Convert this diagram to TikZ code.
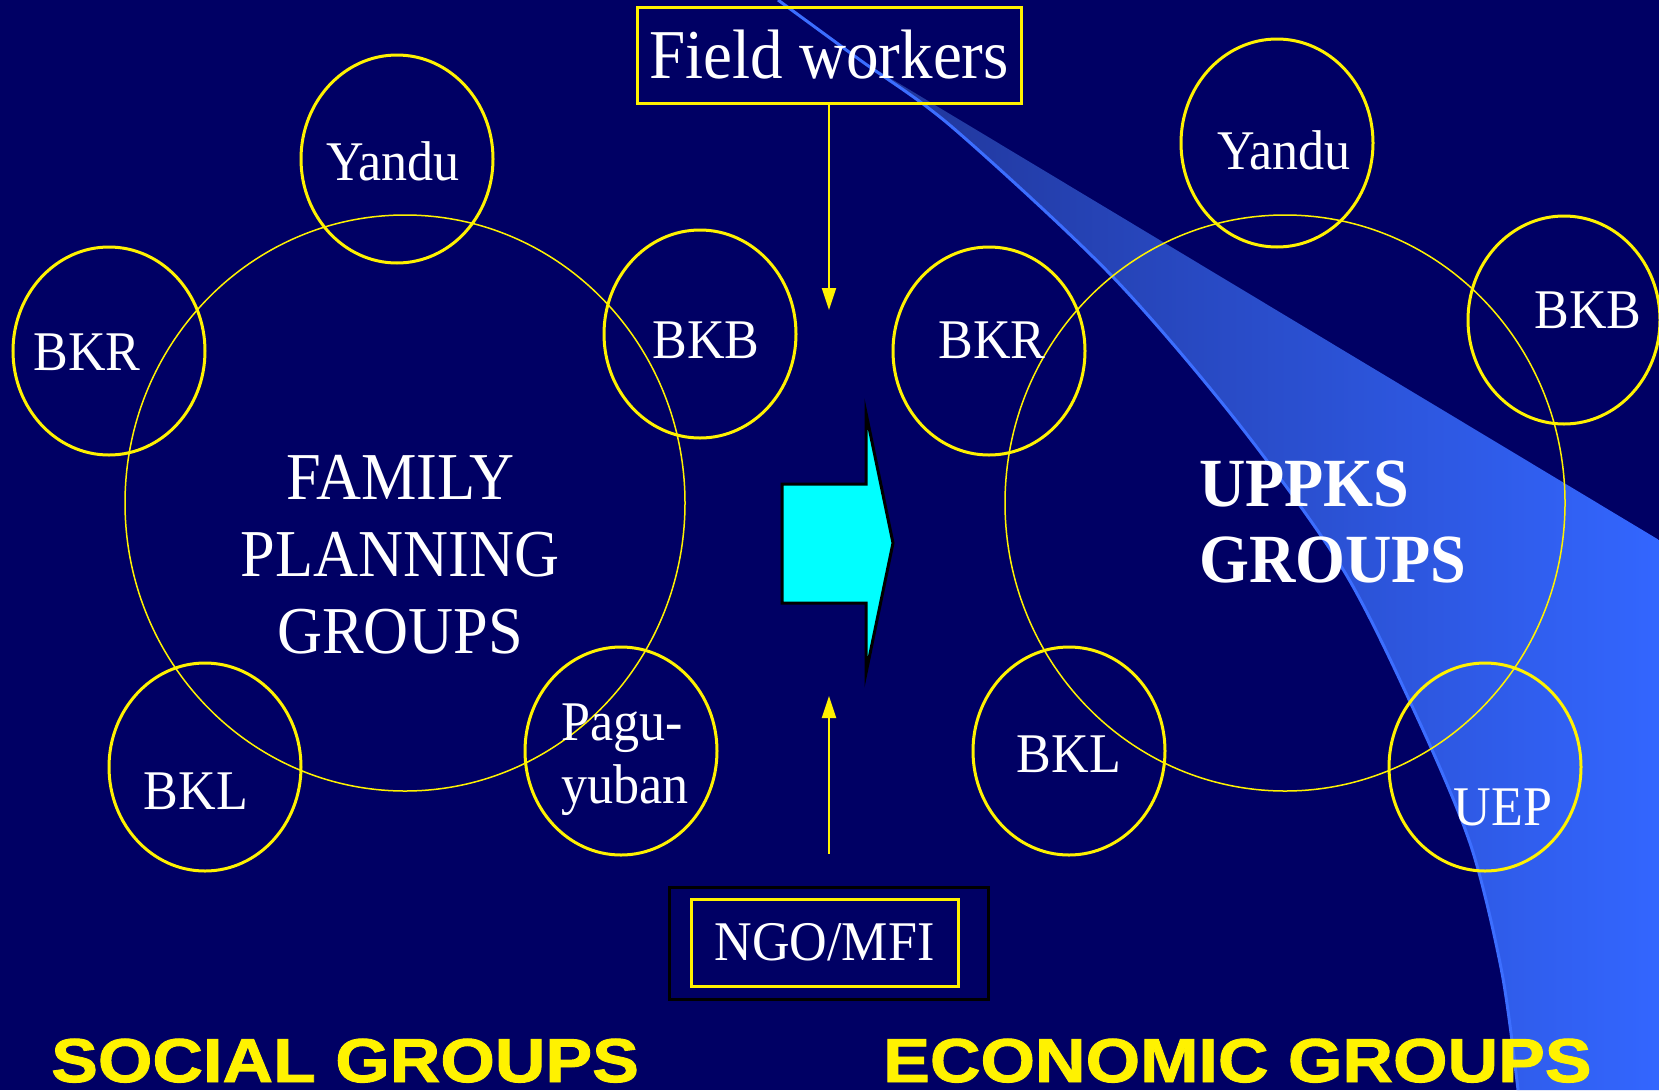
\documentclass[tikz,border=0pt]{standalone}
\usepackage{fontspec}
\setmainfont{Liberation Serif}[FakeStretch=0.93]
\newfontfamily\headfont{Liberation Sans}[FakeStretch=1.13, FakeBold=1.5]
\usetikzlibrary{shapes.geometric,arrows.meta}
\definecolor{navy}{RGB}{0,0,100}
\definecolor{swlight}{RGB}{51,102,255}
\definecolor{swdark}{RGB}{32,52,150}
\definecolor{swedge}{RGB}{60,110,255}
\definecolor{aqua}{RGB}{0,255,255}
\tikzset{
  ring/.style={ellipse, draw=yellow, line width=3pt, inner sep=0pt,
    minimum width=192pt, minimum height=208pt},
  bigring/.style={ellipse, draw=yellow, line width=1.5pt, inner sep=0pt,
    minimum width=560pt, minimum height=576pt},
  lbl/.style={text=white, anchor=base, inner sep=0pt,
    font=\fontsize{56}{63}\selectfont},
  ybox/.style={draw=yellow, line width=3pt, text=white, inner sep=0pt},
  feed/.style={draw=yellow, line width=2pt, -{Triangle[length=22pt, width=14pt]}},
  grouptitle/.style={text=yellow, anchor=base west, inner sep=0pt,
    font=\headfont\bfseries\fontsize{62}{70}\selectfont},
}
\begin{document}
\begin{tikzpicture}[x=1pt, y=-1pt]
            \useasboundingbox (0, 0) rectangle (1659, 1090);
            \fill [navy] (0, 0) rectangle (1659, 1090);

            \shade [left color=swdark, right color=swlight]
                plot [smooth] coordinates {(860, 60) (952, 127) (1111, 275)
                (1238, 423) (1344, 571) (1418, 719) (1471, 846) (1502, 973)
                (1518, 1090)} -- (1659, 1090) -- (1659, 540) -- cycle;
            \draw [swedge, line width=3pt]
                plot [smooth] coordinates {(778, 0) (860, 60) (952, 127)
                (1111, 275) (1238, 423) (1344, 571) (1418, 719) (1471, 846)
                (1502, 973) (1518, 1090)};

            \node [bigring] (fpbig) at (405, 503) {};
            \node [ring] (lyandu) at (397, 159) {};
            \node [ring] (lbkr) at (109, 351) {};
            \node [ring] (lbkb) at (700, 334) {};
            \node [ring] (lbkl) at (205, 767) {};
            \node [ring] (lpagu) at (621, 751) {};

            \node [bigring] (upbig) at (1285, 503) {};
            \node [ring] (ryandu) at (1277, 143) {};
            \node [ring] (rbkr) at (989, 351) {};
            \node [ring] (rbkb) at (1564, 320) {};
            \node [ring] (rbkl) at (1069, 751) {};
            \node [ring] (ruep) at (1485, 767) {};

            \node [lbl] (lyandutxt) at (393, 180) {Yandu};
            \node [lbl] (lbkrtxt) at (87, 370) {BKR};
            \node [lbl] (lbkbtxt) at (706, 358) {BKB};
            \node [lbl] (lbkltxt) at (196, 809) {BKL};
            \node [lbl, anchor=west, align=left] (lpagutxt) at (561, 760)
                {Pagu-\\yuban};
            \node [text=white, inner sep=0pt, align=center,
                font=\fontsize{67}{77}\selectfont] (fptxt) at (400, 555)
                {FAMILY\\PLANNING\\GROUPS};

            \node [lbl] (ryandutxt) at (1284, 169) {Yandu};
            \node [lbl] (rbkrtxt) at (992, 358) {BKR};
            \node [lbl] (rbkbtxt) at (1588, 328) {BKB};
            \node [lbl] (rbkltxt) at (1069, 772) {BKL};
            \node [lbl] (ruepttxt) at (1503, 825) {UEP};
            \node [text=white, inner sep=0pt, anchor=west, align=left,
                font=\bfseries\fontsize{69}{76}\selectfont] (uptxt) at (1199, 522)
                {UPPKS\\GROUPS};

            \node [ybox, minimum width=384pt, minimum height=96pt,
                font=\fontsize{70}{78}\selectfont] (fw) at (829, 55) {Field workers};
            \node [draw=black, line width=3pt, inner sep=0pt,
                minimum width=319pt, minimum height=112pt] (ngoframe) at (829, 943) {};
            \node [ybox, minimum width=267pt, minimum height=87pt,
                font=\fontsize{56}{63}\selectfont] (ngo) at (824.5, 942.5) {NGO/MFI};

            \coordinate (fwend) at (829, 310);
            \coordinate (ngoend) at (829, 696);
            \draw [feed] (fw) -- (fwend);
            \draw [feed, shorten <=32pt] (ngoframe.north) -- (ngoend);

            \filldraw [fill=aqua, draw=black, line width=3pt]
                (782, 484) -- (866, 484) -- (866, 413) -- (893, 543)
                -- (866, 673) -- (866, 603) -- (782, 603) -- cycle;

            \node [grouptitle] (social) at (51, 1082) {SOCIAL GROUPS};
            \node [grouptitle] (economic) at (883, 1082) {ECONOMIC GROUPS};
        \end{tikzpicture}
\end{document}
